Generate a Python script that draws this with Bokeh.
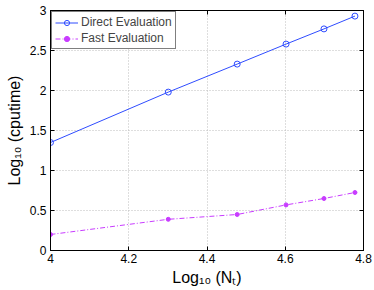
from bokeh.plotting import figure
from bokeh.models import (FixedTicker, LinearAxis, CustomJSTickFormatter,
                          Range1d, Legend, LegendItem)
from bokeh.embed import file_html
from bokeh.resources import INLINE

# ---- data ----
log_nt = [4.0, 4.30103, 4.47712, 4.60206, 4.69897, 4.77815]
direct_eval = [1.35, 1.98, 2.33, 2.58, 2.77, 2.93]
fast_eval = [0.20, 0.39, 0.45, 0.57, 0.65, 0.725]
x_ticks = [4.0, 4.2, 4.4, 4.6, 4.8]
y_ticks = [0, 0.5, 1, 1.5, 2, 2.5, 3]
series_names = ["Direct Evaluation", "Fast Evaluation"]
x_title = "Log\u2081\u2080 (N\u209c)"
y_title = "Log\u2081\u2080 (cputime)"

FONT = "Liberation Sans"
BLUE = "#2f4cff"
MAG = "#c83cff"

p = figure(frame_width=313, frame_height=240, output_backend="svg",
           toolbar_location=None, x_range=Range1d(4, 4.8), y_range=Range1d(0, 3),
           min_border_left=50, min_border_right=11, min_border_top=10,
           min_border_bottom=40, background_fill_color="white")

fmt = CustomJSTickFormatter(code="return String(Math.round(tick*10)/10)")

for ax in (p.xaxis[0], p.yaxis[0]):
    ax.major_tick_in = 4
    ax.major_tick_out = 0
    ax.minor_tick_line_color = None
    ax.axis_line_color = "black"
    ax.major_tick_line_color = "black"
    ax.major_label_text_font = FONT
    ax.major_label_text_font_size = "12px"
    ax.major_label_text_color = "black"
    ax.formatter = fmt
    ax.axis_label_text_font = FONT
    ax.axis_label_text_font_size = "16px"
    ax.axis_label_text_font_style = "normal"
    ax.axis_label_text_color = "black"
p.xaxis[0].ticker = FixedTicker(ticks=x_ticks)
p.yaxis[0].ticker = FixedTicker(ticks=y_ticks)
p.xaxis[0].major_label_standoff = 3
p.yaxis[0].major_label_standoff = 4
p.xaxis[0].axis_label = x_title
p.yaxis[0].axis_label = y_title
p.xaxis[0].axis_label_standoff = 3
p.yaxis[0].axis_label_standoff = 4

for loc, tk in (("above", x_ticks), ("right", y_ticks)):
    ax = LinearAxis(ticker=FixedTicker(ticks=tk))
    ax.major_tick_in = 4
    ax.major_tick_out = 0
    ax.minor_tick_line_color = None
    ax.axis_line_color = "black"
    ax.major_label_text_color = None
    ax.major_label_text_font_size = "1px"
    ax.major_label_standoff = 0
    p.add_layout(ax, loc)

p.outline_line_color = "black"
p.grid.grid_line_color = "#bdbdbd"
p.grid.grid_line_dash = "1 2"
p.xgrid.ticker = FixedTicker(ticks=x_ticks)
p.ygrid.ticker = FixedTicker(ticks=y_ticks)

l1 = p.line(log_nt, direct_eval, line_color=BLUE, line_width=1)
s1 = p.scatter(log_nt, direct_eval, marker="circle", size=6, line_color=BLUE,
               fill_color=None, line_width=1)
l2 = p.line(log_nt, fast_eval, line_color=MAG, line_width=1, line_dash="5 2 1 2")
s2 = p.scatter(log_nt, fast_eval, marker="circle", size=4, line_color=MAG,
               fill_color=MAG)

legend = Legend(items=[LegendItem(label=series_names[0], renderers=[l1, s1]),
                       LegendItem(label=series_names[1], renderers=[l2, s2])],
                location="top_left", margin=1, padding=3, spacing=2,
                glyph_width=23, glyph_height=13, label_height=13,
                label_standoff=3, label_text_font=FONT,
                label_text_font_size="12px", border_line_color="black",
                border_line_width=1, background_fill_alpha=1)
p.add_layout(legend)

open("out.html", "w").write(file_html(p, INLINE))
